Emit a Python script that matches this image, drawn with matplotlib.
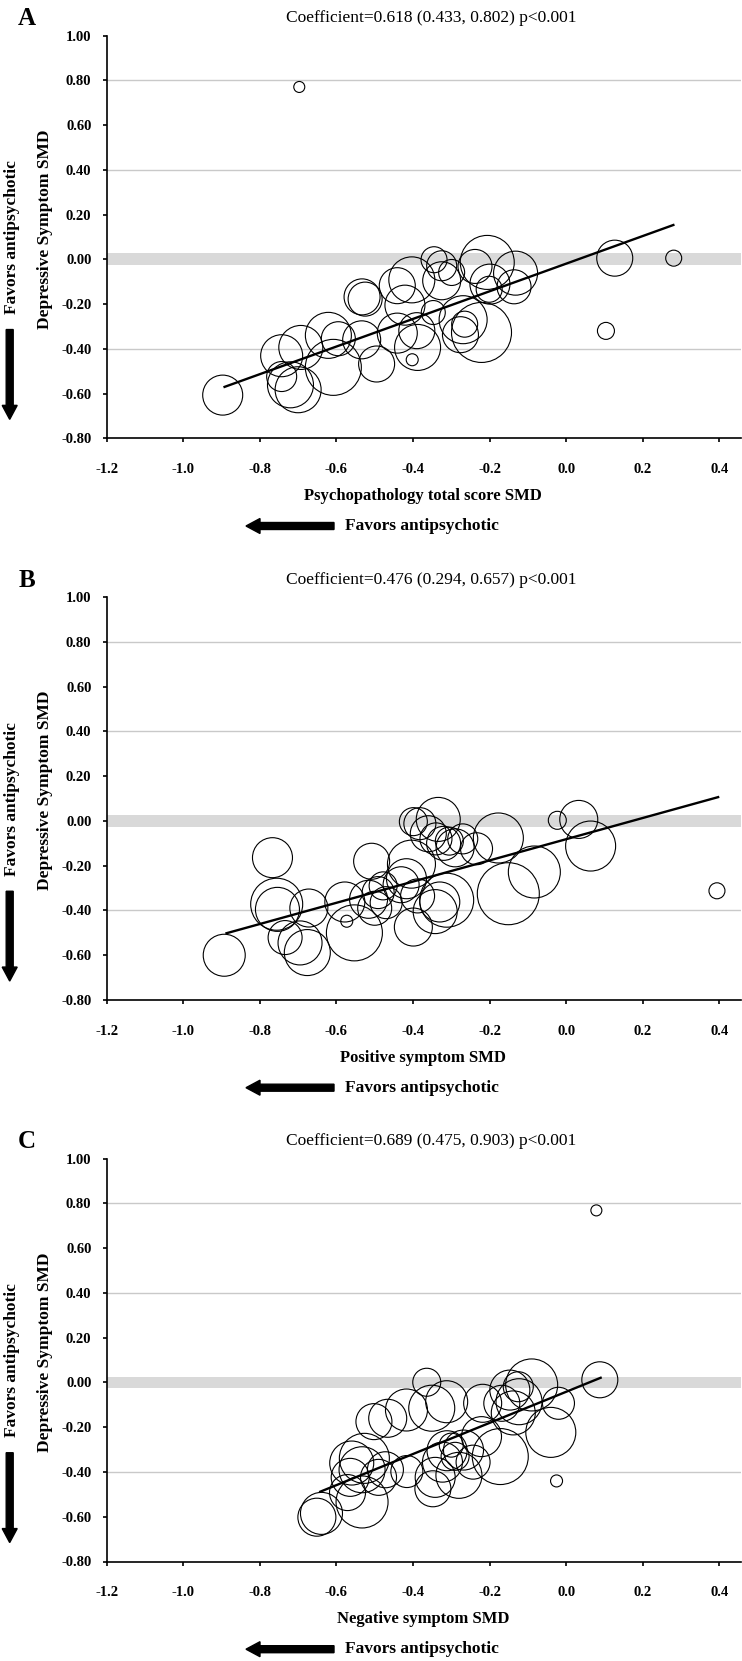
import matplotlib
matplotlib.use("Agg")
import matplotlib.pyplot as plt
from matplotlib.patches import FancyArrow
from matplotlib.transforms import Affine2D

plt.rcParams['font.family'] = ['Liberation Serif', 'DejaVu Serif']

# ---- data ----
panel_letters = ["A", "B", "C"]
titles = ["Coefficient=0.618 (0.433, 0.802) p<0.001",
          "Coefficient=0.476 (0.294, 0.657) p<0.001",
          "Coefficient=0.689 (0.475, 0.903) p<0.001"]
x_labels = ["Psychopathology total score SMD",
            "Positive symptom SMD",
            "Negative symptom SMD"]
y_label = "Depressive Symptom SMD"
favors = "Favors antipsychotic"

x_ticks = [-1.2, -1.0, -0.8, -0.6, -0.4, -0.2, 0.0, 0.2, 0.4]
x_ticklabels = ["-1.2", "-1.0", "-0.8", "-0.6", "-0.4", "-0.2", "0.0", "0.2", "0.4"]
y_ticks = [-0.8, -0.6, -0.4, -0.2, 0.0, 0.2, 0.4, 0.6, 0.8, 1.0]
y_ticklabels = ["-0.80", "-0.60", "-0.40", "-0.20", "0.00", "0.20", "0.40", "0.60", "0.80", "1.00"]

# panel A: psychopathology total score SMD vs depressive symptom SMD
a_x = [-0.897, -0.743, -0.743, -0.720, -0.700, -0.693, -0.608, -0.621, -0.595, -0.533,
       -0.525, -0.534, -0.495, -0.441, -0.403, -0.421, -0.441, -0.388, -0.390, -0.402,
       -0.345, -0.325, -0.325, -0.347, -0.206, -0.238, -0.132, -0.199, -0.136, -0.201,
       -0.269, -0.265, -0.276, -0.221, -0.299, -0.697, 0.127, 0.281, 0.104]
a_y = [-0.607, -0.431, -0.524, -0.561, -0.583, -0.394, -0.483, -0.340, -0.355, -0.168,
       -0.178, -0.360, -0.468, -0.118, -0.092, -0.205, -0.330, -0.394, -0.319, -0.449,
       -0.002, -0.029, -0.096, -0.238, -0.014, -0.032, -0.062, -0.111, -0.123, -0.134,
       -0.270, -0.290, -0.337, -0.327, -0.059, 0.770, 0.005, 0.005, -0.320]
a_w = [20, 21, 15, 23, 23, 22, 28, 23, 17, 18,
       17, 19, 18, 18, 23, 20, 20, 23, 18, 6,
       13, 15, 19, 12, 27, 17, 22, 20, 17, 13,
       24, 13, 18, 30, 13, 5.5, 18, 8, 8.5]
a_line_x = [-0.895, 0.283]
a_line_y = [-0.572, 0.155]

# panel B: positive symptom SMD
b_x = [-0.893, -0.767, -0.756, -0.754, -0.734, -0.695, -0.676, -0.672, -0.578, -0.573,
       -0.553, -0.508, -0.516, -0.491, -0.478, -0.500, -0.470, -0.431, -0.417, -0.404,
       -0.399, -0.388, -0.330, -0.342, -0.312, -0.399, -0.382, -0.334, -0.360, -0.340,
       -0.320, -0.305, -0.290, -0.270, -0.234, -0.177, -0.083, -0.151, -0.023, 0.033,
       0.064, 0.394]
b_y = [-0.600, -0.164, -0.372, -0.395, -0.521, -0.545, -0.588, -0.389, -0.362, -0.448,
       -0.500, -0.180, -0.350, -0.320, -0.290, -0.390, -0.365, -0.285, -0.258, -0.193,
       -0.474, -0.335, -0.362, -0.405, -0.354, -0.003, -0.012, 0.007, -0.057, -0.080,
       -0.100, -0.090, -0.120, -0.080, -0.124, -0.076, -0.228, -0.325, 0.003, 0.007,
       -0.112, -0.312]
b_w = [21, 20, 26, 22, 17, 22, 23, 19, 20, 6,
       28, 18, 19, 16, 14, 17, 16, 18, 20, 24,
       19, 17, 20, 22, 27, 14, 16, 22, 18, 16,
       17, 14, 19, 15, 16, 25, 26, 31, 9, 19,
       25, 8]
b_line_x = [-0.890, 0.400]
b_line_y = [-0.503, 0.108]

# panel C: negative symptom SMD
c_x = [0.079, 0.088, -0.090, -0.125, -0.147, -0.168, -0.123, -0.020, -0.040, -0.218,
       -0.312, -0.025, -0.221, -0.172, -0.268, -0.364, -0.351, -0.417, -0.466, -0.502,
       -0.243, -0.280, -0.311, -0.323, -0.342, -0.348, -0.290, -0.300, -0.416, -0.472,
       -0.490, -0.527, -0.533, -0.533, -0.564, -0.571, -0.639, -0.651, -0.560, -0.138]
c_y = [0.769, 0.012, -0.011, -0.019, -0.034, -0.093, -0.086, -0.093, -0.223, -0.093,
       -0.086, -0.440, -0.242, -0.331, -0.302, 0.001, -0.115, -0.123, -0.160, -0.175,
       -0.356, -0.415, -0.305, -0.356, -0.424, -0.475, -0.330, -0.280, -0.398, -0.390,
       -0.424, -0.339, -0.390, -0.534, -0.424, -0.492, -0.585, -0.602, -0.360, -0.136]
c_w = [5.5, 18, 26, 15, 20, 18, 23, 16, 25, 19,
       21, 6, 20, 28, 20, 14, 23, 21, 19, 18,
       17, 23, 20, 20, 20, 18, 14, 12, 16, 18,
       18, 25, 23, 26, 19, 18, 21, 19, 22, 22]
c_line_x = [-0.645, 0.093]
c_line_y = [-0.490, 0.023]

panels = [(a_x, a_y, a_w, a_line_x, a_line_y),
          (b_x, b_y, b_w, b_line_x, b_line_y),
          (c_x, c_y, c_w, c_line_x, c_line_y)]

# ---- layout (pixels, measured from top of the image) ----
W, H = 742, 1661
fig = plt.figure(figsize=(W / 100, H / 100), dpi=100)
pix = Affine2D().scale(1.0 / W, -1.0 / H).translate(0, 1) + fig.transFigure

ax_left, ax_w, ax_h = 106.7, 634.0, 402.8
ax_tops = [35.5, 597.2, 1158.7]

for i, (xs, ys, ws, lx, ly) in enumerate(panels):
    top = ax_tops[i]
    bottom = top + ax_h
    ax = fig.add_axes([ax_left / W, 1 - bottom / H, ax_w / W, ax_h / H])
    ax.set_xlim(-1.2, 0.456)
    ax.set_ylim(-0.8, 1.0)

    ax.axhspan(-0.026, 0.026, color='#d9d9d9', lw=0, zorder=0)
    for g in (-0.4, 0.4, 0.8):
        ax.axhline(g, color='#c9c9c9', lw=1.0, zorder=0)

    # bubble radius in pixels -> marker diameter in points
    sizes = [(2 * w * 0.72) ** 2 for w in ws]
    ax.scatter(xs, ys, s=sizes, facecolors='none', edgecolors='black',
               linewidths=0.8, zorder=2, clip_on=False)
    ax.plot(lx, ly, color='black', lw=1.7, zorder=3, solid_capstyle='butt')

    for side in ('top', 'right'):
        ax.spines[side].set_visible(False)
    for side in ('left', 'bottom'):
        ax.spines[side].set_linewidth(1.2)
        ax.spines[side].set_color('black')

    ax.set_xticks(x_ticks)
    ax.set_xticklabels(x_ticklabels, fontweight='bold', fontsize=10.5)
    ax.set_yticks(y_ticks)
    ax.set_yticklabels(y_ticklabels, fontweight='bold', fontsize=10.5)
    ax.tick_params(axis='x', direction='out', length=3, width=1.2, pad=15)
    ax.tick_params(axis='y', direction='out', length=3, width=1.2, pad=8)

    # panel letter and title
    fig.text(27, top - 17, panel_letters[i], transform=pix, fontsize=18,
             fontweight='bold', ha='center', va='center')
    fig.text(431.6, top - 17.5, titles[i], transform=pix, fontsize=12.5,
             ha='center', va='center')

    # x label and horizontal "favors" arrow
    fig.text(423, bottom + 57.7, x_labels[i], transform=pix, fontsize=12,
             fontweight='bold', ha='center', va='center')
    fig.add_artist(FancyArrow(334, bottom + 87.7, -88, 0, width=7, head_width=15,
                              head_length=14, length_includes_head=True,
                              color='black', transform=pix))
    fig.text(345, bottom + 87.7, favors, transform=pix, fontsize=12.5,
             fontweight='bold', ha='left', va='center')

    # y label, rotated "favors" text and downward arrow
    fig.text(45, bottom - 0.52 * ax_h, y_label, transform=pix, fontsize=12.5,
             fontweight='bold', rotation=90, ha='center', va='center')
    fig.text(12, bottom - 0.50 * ax_h, favors, transform=pix, fontsize=12.5,
             fontweight='bold', rotation=90, ha='center', va='center')
    fig.add_artist(FancyArrow(9.7, bottom - 0.27 * ax_h, 0, 0.223 * ax_h, width=7,
                              head_width=15, head_length=14, length_includes_head=True,
                              color='black', transform=pix))

fig.savefig("out.png", dpi=100, facecolor='white')
